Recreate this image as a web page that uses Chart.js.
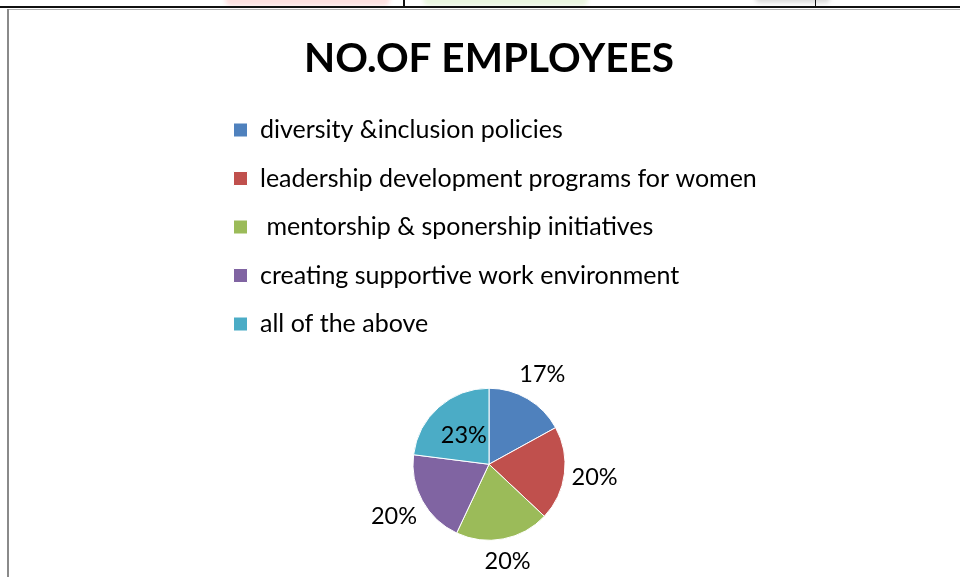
<!DOCTYPE html>
<html>
<head>
<meta charset="utf-8">
<title>NO.OF EMPLOYEES</title>
<script src="https://cdn.jsdelivr.net/npm/chart.js@4.4.1/dist/chart.umd.min.js"></script>
<style>
  html, body { margin: 0; padding: 0; width: 960px; height: 577px; overflow: hidden; background: #fff; }
  .rule { position: absolute; }
  #topRule { left: 0; top: 6px; width: 960px; height: 2px; background: #111; }
  #frameTop { left: 7px; top: 9px; width: 953px; height: 1px; background: #b0b0b0; }
  #frameLeft { left: 7px; top: 9px; width: 2px; height: 568px; background: #8a8a8a; }
  #tick1 { left: 403px; top: 0; width: 2px; height: 7px; background: #111; }
  #tick2 { left: 815px; top: 0; width: 1px; height: 7px; background: #111; }
  .smudge { position: absolute; top: -6px; height: 12px; border-radius: 6px; filter: blur(2px); }
  #pink { left: 225px; width: 165px; background: #fde0e0; }
  #green { left: 423px; width: 165px; background: #eaf6e0; }
  #grey { left: 755px; width: 75px; background: #dcdcdc; height: 9px; }
  #wrap { position: absolute; left: 210px; top: 0; width: 558px; height: 582px; }
</style>
</head>
<body>
<div class="smudge" id="pink"></div>
<div class="smudge" id="green"></div>
<div class="smudge" id="grey"></div>
<div class="rule" id="topRule"></div>
<div class="rule" id="frameTop"></div>
<div class="rule" id="frameLeft"></div>
<div class="rule" id="tick1"></div>
<div class="rule" id="tick2"></div>
<div id="wrap"><canvas id="pieChart" width="558" height="582"></canvas></div>
<script>
const categories = [
  "diversity &inclusion policies",
  "leadership development programs for women",
  " mentorship & sponership initiatives",
  "creating supportive work environment",
  "all of the above"
];
const shares = [17, 20, 20, 20, 23];
const sliceColors = ["#4F81BD", "#C0504D", "#9BBB59", "#8064A2", "#4BACC6"];
// where each percentage sits: outside the rim or inside the slice
const labelSpots = ["out", "out", "out", "out", "in"];

const FONT = "Lato, 'Open Sans', sans-serif";

// percentage labels placed along each slice's middle angle;
// outside ones sit just clear of the rim, allowing for the text box size
const sliceLabels = {
  id: "sliceLabels",
  afterDatasetsDraw(chart) {
    const ctx = chart.ctx;
    const meta = chart.getDatasetMeta(0);
    const total = shares.reduce((a, b) => a + b, 0);
    const gap = 6, halfH = 13;
    ctx.save();
    ctx.font = "23.5px " + FONT;
    ctx.fillStyle = "#000";
    ctx.textAlign = "center";
    ctx.textBaseline = "middle";
    meta.data.forEach((arc, i) => {
      const p = arc.getProps(["x", "y", "startAngle", "endAngle", "outerRadius"], true);
      const mid = (p.startAngle + p.endAngle) / 2;
      const txt = Math.round(shares[i] / total * 100) + "%";
      const halfW = ctx.measureText(txt).width / 2;
      const c = Math.cos(mid), s = Math.sin(mid);
      const dist = labelSpots[i] === "in"
        ? p.outerRadius * 0.5
        : p.outerRadius + gap + Math.abs(c) * halfW + Math.abs(s) * halfH;
      ctx.fillText(txt, p.x + c * dist, p.y + s * dist);
    });
    ctx.restore();
  }
};

new Chart(document.getElementById("pieChart"), {
  type: "pie",
  data: {
    labels: categories,
    datasets: [{
      data: shares,
      backgroundColor: sliceColors,
      borderColor: "#ffffff",
      borderWidth: 1,
      radius: 76
    }]
  },
  options: {
    responsive: false,
    animation: false,
    layout: { padding: 0 },
    plugins: {
      title: {
        display: true,
        text: "NO.OF EMPLOYEES",
        color: "#000",
        font: { family: FONT, size: 40.5, weight: "bold", lineHeight: 1.2 },
        padding: { top: 34.7, bottom: 10.7 }
      },
      legend: {
        position: "top",
        align: "start",
        labels: {
          color: "#000",
          font: { family: FONT, size: 25 },
          boxWidth: 14,
          boxHeight: 14,
          padding: 23.5
        }
      },
      tooltip: { enabled: false }
    }
  },
  plugins: [sliceLabels]
});
</script>
</body>
</html>
